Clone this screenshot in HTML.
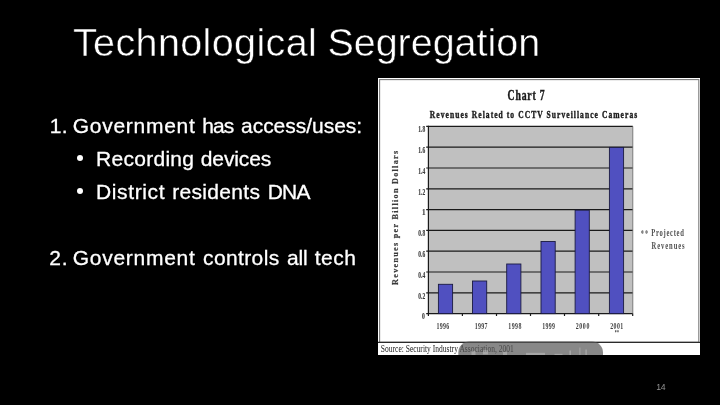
<!DOCTYPE html>
<html lang="en">
<head>
<meta charset="utf-8">
<title>Technological Segregation</title>
<style>
html,body{margin:0;padding:0;background:#000;}
body{width:720px;height:405px;overflow:hidden;position:relative;font-family:"Liberation Sans",sans-serif;color:#fff;}
.slide{position:absolute;left:0;top:0;width:720px;height:405px;background:#000;overflow:hidden;}
.ln{position:absolute;left:0;width:720px;height:1em;line-height:1;margin:0;padding:0;white-space:pre;font-weight:400;}
.ln .w{position:absolute;top:0;white-space:pre;}
h1.ln{font-size:39.5px;-webkit-text-stroke:0.5px #000;}
.b{font-size:21px;-webkit-text-stroke:0.3px #fff;}
.dot{position:absolute;width:6px;height:6px;border-radius:50%;background:#fff;}
.num{font-size:8.7px;color:#929292;letter-spacing:-0.5px;}
.chart{position:absolute;left:378px;top:78px;width:322px;height:277px;background:#fff;overflow:hidden;}
.chart svg{position:absolute;left:0;top:0;}
</style>
</head>
<body>
<div class="slide">
  <h1 class="ln" id="title" style="top:23.2px"><span class="w" style="left:73px;letter-spacing:0.369px">Technological </span><span class="w" style="left:327.4px;letter-spacing:-0.026px">Segregation</span></h1>
  <div class="ln b" id="l1" style="top:114.6px"><span class="w" style="left:49.8px;letter-spacing:0.321px">1. </span><span class="w" style="left:72.7px;letter-spacing:0.731px">Government </span><span class="w" style="left:202.3px;letter-spacing:-0.929px">has </span><span class="w" style="left:241px;letter-spacing:-0.023px">access/uses:</span></div>
  <span class="dot" style="left:77.1px;top:154.5px;"></span>
  <div class="ln b" id="l2" style="top:147.8px"><span class="w" style="left:96px;letter-spacing:0.282px">Recording </span><span class="w" style="left:200.8px;letter-spacing:-0.117px">devices</span></div>
  <span class="dot" style="left:77.1px;top:188.1px;"></span>
  <div class="ln b" id="l3" style="top:181.1px"><span class="w" style="left:96px;letter-spacing:0.625px">District </span><span class="w" style="left:172.3px;letter-spacing:0.299px">residents </span><span class="w" style="left:267.7px;letter-spacing:-0.766px">DNA</span></div>
  <div class="ln b" id="l4" style="top:247.4px"><span class="w" style="left:49.3px;letter-spacing:0.821px">2. </span><span class="w" style="left:72.7px;letter-spacing:0.731px">Government </span><span class="w" style="left:203px;letter-spacing:0.381px">controls </span><span class="w" style="left:287px;letter-spacing:-0.172px">all </span><span class="w" style="left:314.7px;letter-spacing:0.529px">tech</span></div>
  <div class="ln num" id="num" style="top:382.7px"><span class="w" style="left:656.3px">14</span></div>

  <div class="chart">
    <svg width="322" height="277" viewBox="378 78 322 277" font-family="'Liberation Serif',serif" font-weight="700" fill="#1a1a1a">
      <!-- frame -->
      <rect x="379.6" y="79.6" width="319.2" height="262.7" fill="none" stroke="#7a7a7a" stroke-width="1.1"/>
      <line x1="378" y1="342.3" x2="700" y2="342.3" stroke="#2a2a2a" stroke-width="1.3"/>
      <!-- titles -->
      <text transform="translate(507.6 99.9) scale(0.68 1)" font-size="14.3" font-weight="700" fill="#1a1a1a" stroke="#1a1a1a" stroke-width="0.4" vector-effect="non-scaling-stroke" letter-spacing="1.218">Chart 7</text>
      <text transform="translate(429.8 117.8) scale(0.74 1)" font-size="10.2" font-weight="700" fill="#1a1a1a" stroke="#1a1a1a" stroke-width="0.35" vector-effect="non-scaling-stroke" letter-spacing="1.424">Revenues Related to CCTV Surveillance Cameras</text>
      <!-- plot -->
      <rect x="428.4" y="126.3" width="204.4" height="187.3" fill="#c0c0c0"/>
      <g stroke="#1a1a1a" stroke-width="1.2"><line x1="426.2" y1="313.6" x2="632.8" y2="313.6"/><line x1="426.2" y1="292.8" x2="632.8" y2="292.8"/><line x1="426.2" y1="272.0" x2="632.8" y2="272.0"/><line x1="426.2" y1="251.2" x2="632.8" y2="251.2"/><line x1="426.2" y1="230.4" x2="632.8" y2="230.4"/><line x1="426.2" y1="209.6" x2="632.8" y2="209.6"/><line x1="426.2" y1="188.8" x2="632.8" y2="188.8"/><line x1="426.2" y1="168.0" x2="632.8" y2="168.0"/><line x1="426.2" y1="147.2" x2="632.8" y2="147.2"/><line x1="426.2" y1="126.4" x2="632.8" y2="126.4"/><line x1="428.4" y1="125.8" x2="428.4" y2="316"/><line x1="462.4" y1="313.6" x2="462.4" y2="316"/><line x1="496.5" y1="313.6" x2="496.5" y2="316"/><line x1="530.5" y1="313.6" x2="530.5" y2="316"/><line x1="564.5" y1="313.6" x2="564.5" y2="316"/><line x1="598.7" y1="313.6" x2="598.7" y2="316"/><line x1="632.7" y1="313.6" x2="632.7" y2="316"/></g>
      <line x1="632.8" y1="126.3" x2="632.8" y2="313.6" stroke="#666" stroke-width="0.8"/>
      <!-- bars -->
      <g fill="#5050c0" stroke="#1a1a40" stroke-width="0.9"><rect x="438.4" y="284.3" width="14.2" height="29.3"/><rect x="472.5" y="281.0" width="14.2" height="32.6"/><rect x="506.7" y="264.0" width="14.2" height="49.6"/><rect x="541.0" y="241.5" width="14.2" height="72.1"/><rect x="575.1" y="210.2" width="14.2" height="103.4"/><rect x="609.4" y="147.4" width="14.2" height="166.2"/></g>
      <!-- y labels -->
      <text transform="translate(422 318.8) scale(0.64 1)" font-size="8.8" font-weight="700" fill="#3c3c3c" stroke="#3c3c3c" stroke-width="0.15" vector-effect="non-scaling-stroke">0</text>
      <text transform="translate(418.2 298.6) scale(0.62 1)" font-size="8.8" font-weight="700" fill="#3c3c3c" stroke="#3c3c3c" stroke-width="0.15" vector-effect="non-scaling-stroke" letter-spacing="0.088">0.2</text>
      <text transform="translate(418.2 277.8) scale(0.62 1)" font-size="8.8" font-weight="700" fill="#3c3c3c" stroke="#3c3c3c" stroke-width="0.15" vector-effect="non-scaling-stroke" letter-spacing="0.088">0.4</text>
      <text transform="translate(418.2 257) scale(0.62 1)" font-size="8.8" font-weight="700" fill="#3c3c3c" stroke="#3c3c3c" stroke-width="0.15" vector-effect="non-scaling-stroke" letter-spacing="0.088">0.6</text>
      <text transform="translate(418.2 236.2) scale(0.62 1)" font-size="8.8" font-weight="700" fill="#3c3c3c" stroke="#3c3c3c" stroke-width="0.15" vector-effect="non-scaling-stroke" letter-spacing="0.088">0.8</text>
      <text transform="translate(422 215.4) scale(0.8 1)" font-size="8.8" font-weight="700" fill="#3c3c3c" stroke="#3c3c3c" stroke-width="0.15" vector-effect="non-scaling-stroke">1</text>
      <text transform="translate(418.2 194.6) scale(0.62 1)" font-size="8.8" font-weight="700" fill="#3c3c3c" stroke="#3c3c3c" stroke-width="0.15" vector-effect="non-scaling-stroke" letter-spacing="0.088">1.2</text>
      <text transform="translate(418.2 173.8) scale(0.62 1)" font-size="8.8" font-weight="700" fill="#3c3c3c" stroke="#3c3c3c" stroke-width="0.15" vector-effect="non-scaling-stroke" letter-spacing="0.088">1.4</text>
      <text transform="translate(418.2 153) scale(0.62 1)" font-size="8.8" font-weight="700" fill="#3c3c3c" stroke="#3c3c3c" stroke-width="0.15" vector-effect="non-scaling-stroke" letter-spacing="0.088">1.6</text>
      <text transform="translate(418.2 132.2) scale(0.62 1)" font-size="8.8" font-weight="700" fill="#3c3c3c" stroke="#3c3c3c" stroke-width="0.15" vector-effect="non-scaling-stroke" letter-spacing="0.088">1.8</text>
      <!-- x labels -->
      <text transform="translate(436.5 328.7) scale(0.64 1)" font-size="9.2" font-weight="700" fill="#404040" letter-spacing="0.458">1996</text>
      <text transform="translate(474.7 328.7) scale(0.64 1)" font-size="9.2" font-weight="700" fill="#404040" letter-spacing="0.458">1997</text>
      <text transform="translate(508.3 328.7) scale(0.64 1)" font-size="9.2" font-weight="700" fill="#404040" letter-spacing="0.667">1998</text>
      <text transform="translate(542.2 328.7) scale(0.64 1)" font-size="9.2" font-weight="700" fill="#404040" letter-spacing="0.51">1999</text>
      <text transform="translate(575.8 328.7) scale(0.64 1)" font-size="9.2" font-weight="700" fill="#404040" letter-spacing="0.927">2000</text>
      <text transform="translate(610.2 328.7) scale(0.64 1)" font-size="9.2" font-weight="700" fill="#404040" letter-spacing="0.667">2001</text>
      <text transform="translate(614.8 334.2) scale(0.6 1)" font-size="6.5" font-weight="700" fill="#333" letter-spacing="0.583">**</text>
      <!-- y title -->
      <text transform="translate(398.3 284.9) rotate(-90) scale(1.12 1)" font-size="7.3" font-weight="700" fill="#3a3a3a" stroke="#3a3a3a" stroke-width="0.2" vector-effect="non-scaling-stroke" letter-spacing="1.14">Revenues per Billion Dollars</text>
      <!-- legend -->
      <text transform="translate(640.7 237) scale(0.66 1)" font-size="9.5" font-weight="700" fill="#5a5a5a" letter-spacing="1.765">**</text>
      <text transform="translate(651.2 236.3) scale(0.68 1)" font-size="9.7" font-weight="700" fill="#505050" letter-spacing="1.055">Projected</text>
      <text transform="translate(651.5 248.8) scale(0.68 1)" font-size="9.7" font-weight="700" fill="#505050" letter-spacing="1.351">Revenues</text>
      <!-- source -->
      <text transform="translate(380.8 351.6) scale(0.72 1)" font-size="10.4" font-weight="400" fill="#1a1a1a" letter-spacing="0.039">Source: Security Industry Association, 2001</text>
      <!-- overlay -->
      <path d="M458.3 356 V352.5 a11 11 0 0 1 11 -11 H592 a11 11 0 0 1 11 11 V356 Z" fill="#555" fill-opacity="0.7"/>
      <g fill="#e0e0e0" fill-opacity="0.35">
        <rect x="471.5" y="351" width="4" height="4"/><rect x="483" y="350.2" width="5" height="4.2"/><rect x="503" y="352" width="4" height="3"/>
        <rect x="526" y="352.8" width="19" height="2.2"/><rect x="554.5" y="353.8" width="8" height="1.2"/>
        <rect x="569.4" y="350.5" width="1.6" height="4.5"/><rect x="579.4" y="347.5" width="1" height="7.5"/><rect x="585.4" y="349.5" width="1.4" height="5.5"/>
      </g>
    </svg>
  </div>
</div>
</body>
</html>
